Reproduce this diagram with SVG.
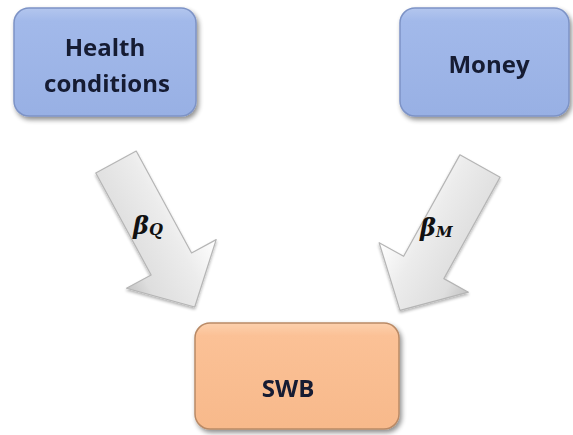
<svg xmlns="http://www.w3.org/2000/svg" width="573" height="435" viewBox="0 0 573 435">
  <defs>
    <linearGradient id="blueFill" x1="0" y1="0" x2="0" y2="1">
      <stop offset="0" stop-color="#b3c6ee"/>
      <stop offset="0.12" stop-color="#a2b9ea"/>
      <stop offset="1" stop-color="#98b0e4"/>
    </linearGradient>
    <linearGradient id="orangeFill" x1="0" y1="0" x2="0" y2="1">
      <stop offset="0" stop-color="#fcd0ad"/>
      <stop offset="0.12" stop-color="#fbc196"/>
      <stop offset="1" stop-color="#f7b98b"/>
    </linearGradient>
    <linearGradient id="arrowFill" gradientUnits="userSpaceOnUse" x1="0" y1="-51" x2="0" y2="51">
      <stop offset="0" stop-color="#ffffff"/>
      <stop offset="0.35" stop-color="#ececec"/>
      <stop offset="0.8" stop-color="#dedede"/>
      <stop offset="1" stop-color="#c4c4c4"/>
    </linearGradient>
    <filter id="shadow" x="-10%" y="-10%" width="125%" height="130%">
      <feGaussianBlur in="SourceAlpha" stdDeviation="2.5"/>
      <feOffset dx="2" dy="3" result="b"/>
      <feComponentTransfer><feFuncA type="linear" slope="0.45"/></feComponentTransfer>
      <feMerge><feMergeNode/><feMergeNode in="SourceGraphic"/></feMerge>
    </filter>
    <filter id="ashadow" x="-20%" y="-20%" width="140%" height="140%">
      <feGaussianBlur in="SourceAlpha" stdDeviation="1.8"/>
      <feOffset dx="0" dy="2" result="b"/>
      <feComponentTransfer><feFuncA type="linear" slope="0.3"/></feComponentTransfer>
      <feMerge><feMergeNode/><feMergeNode in="SourceGraphic"/></feMerge>
    </filter>
  </defs>
  <style>
    .box-blue { fill: url(#blueFill); stroke: #7d93c6; stroke-width: 1.5; }
    .box-orange { fill: url(#orangeFill); stroke: #b98a66; stroke-width: 1.5; }
    .label { font-family: "Open Sans", "Liberation Sans", sans-serif; font-weight: bold; font-size: 24px; fill: #141a33; text-anchor: middle; }
    .arrow { fill: url(#arrowFill); stroke: #b5b5b5; stroke-width: 1.2; stroke-linejoin: round; }
    .beta { font-family: "DejaVu Serif", "Liberation Serif", serif; font-weight: bold; font-style: italic; fill: #111111; }
  </style>
  <rect width="573" height="435" fill="#ffffff"/>

  <g id="connectors">
    <g id="arrow-health" filter="url(#ashadow)">
      <polygon class="arrow" transform="translate(116,162) rotate(61.5)" points="0,-23 116,-23 116,-51 165,0 116,51 116,23 0,23"/>
    </g>
    <g id="arrow-money" filter="url(#ashadow)">
      <polygon class="arrow" transform="translate(480,166) rotate(119) scale(1,-1)" points="0,-23 116,-23 116,-51 165,0 116,51 116,23 0,23"/>
    </g>
    <text class="beta" x="133" y="234" font-size="24">β<tspan font-size="16" dy="1">Q</tspan></text>
    <text class="beta" x="420" y="236" font-size="24">β<tspan font-size="15" dy="1">M</tspan></text>
  </g>

  <g id="node-health" filter="url(#shadow)">
    <rect class="box-blue" x="14" y="8" width="182" height="108" rx="15"/>
    <text class="label" x="105" y="56">Health</text>
    <text class="label" x="107" y="92">conditions</text>
  </g>

  <g id="node-money" filter="url(#shadow)">
    <rect class="box-blue" x="400" y="8" width="169" height="108" rx="15"/>
    <text class="label" x="489" y="73">Money</text>
  </g>

  <g id="node-swb" filter="url(#shadow)">
    <rect class="box-orange" x="195" y="323" width="204" height="106" rx="15"/>
    <text class="label" x="288" y="397">SWB</text>
  </g>
</svg>
